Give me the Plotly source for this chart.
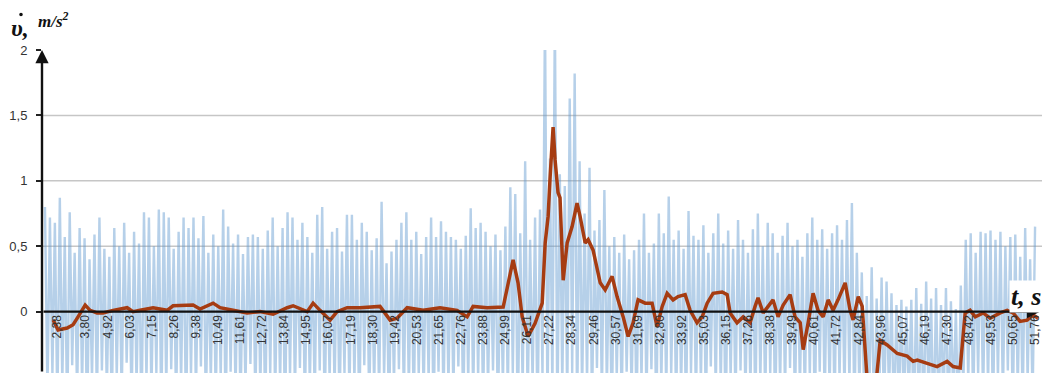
import numpy as np
import plotly.graph_objects as go

# ---- raw acceleration record (alternating crest / trough samples) ----
t_start = 1.75
t_step = 0.125

crest_vals = [
    0.80, 0.72, 0.68, 0.87, 0.57, 0.76, 0.45, 0.64, 0.56, 0.40,
    0.59, 0.72, 0.48, 0.42, 0.64, 0.50, 0.68, 0.45, 0.61, 0.52,
    0.76, 0.72, 0.50, 0.78, 0.76, 0.72, 0.48, 0.61, 0.72, 0.64,
    0.72, 0.56, 0.73, 0.45, 0.59, 0.50, 0.78, 0.65, 0.52, 0.59,
    0.44, 0.57, 0.59, 0.57, 0.48, 0.62, 0.72, 0.50, 0.64, 0.76,
    0.72, 0.55, 0.68, 0.57, 0.45, 0.74, 0.80, 0.48, 0.61, 0.64,
    0.46, 0.74, 0.74, 0.55, 0.68, 0.61, 0.47, 0.56, 0.84, 0.37,
    0.46, 0.55, 0.68, 0.76, 0.55, 0.61, 0.44, 0.57, 0.72, 0.57,
    0.69, 0.61, 0.57, 0.55, 0.48, 0.58, 0.79, 0.64, 0.68, 0.61,
    0.50, 0.59, 0.47, 0.65, 0.95, 0.90, 0.60, 1.15, 0.55, 0.72,
    0.78, 2.30, 1.17, 2.30, 1.05, 0.96, 1.63, 1.82, 1.15, 0.75,
    1.10, 0.62, 0.70, 0.93, 0.50, 0.57, 0.45, 0.59, 0.40, 0.47,
    0.55, 0.75, 0.45, 0.52, 0.75, 0.60, 0.88, 0.55, 0.62, 0.48,
    0.77, 0.58, 0.55, 0.66, 0.45, 0.60, 0.75, 0.52, 0.62, 0.48,
    0.70, 0.55, 0.45, 0.63, 0.75, 0.50, 0.68, 0.60, 0.45, 0.58,
    0.68, 0.50, 0.55, 0.42, 0.60, 0.72, 0.55, 0.63, 0.48, 0.60,
    0.66, 0.55, 0.70, 0.83, 0.45, 0.30, 0.12, 0.34, 0.10, 0.26,
    0.23, 0.14, 0.05, 0.09, 0.04, 0.09, 0.18, 0.06, 0.23, 0.10,
    0.18, 0.05, 0.18, 0.08, 0.02, 0.20, 0.55, 0.60, 0.45, 0.61,
    0.60, 0.62, 0.55, 0.61, 0.50, 0.57, 0.59, 0.42, 0.64, 0.40,
    0.65,
]

trough_vals = [
    -0.62, -0.48, -0.75, -0.55, -0.83, -0.41, -0.66, -0.58, -0.90, -0.52,
    -0.70, -0.45, -0.61, -0.78, -0.50, -0.67, -0.39, -0.72, -0.57, -0.85,
    -0.53, -0.64, -0.47, -0.80, -0.60, -0.44, -0.73, -0.56, -0.88, -0.49,
    -0.65, -0.42, -0.77, -0.54, -0.69, -0.51, -0.86, -0.46, -0.63, -0.74,
    -0.58, -0.40, -0.71, -0.60, -0.82, -0.48, -0.67, -0.55, -0.92, -0.50,
    -0.64, -0.43, -0.76, -0.57, -0.69, -0.45, -0.81, -0.52, -0.62, -0.79,
    -0.47, -0.68, -0.55, -0.87, -0.41, -0.73, -0.59, -0.66, -0.50, -0.84,
    -0.56, -0.44, -0.70, -0.61, -0.78, -0.49, -0.65, -0.53, -0.89, -0.46,
    -0.72, -0.58, -0.63, -0.42, -0.80, -0.54, -0.68, -0.51, -0.75, -0.60,
    -0.45, -0.83, -0.57, -0.66, -0.48, -0.91, -0.60, -0.72, -0.55, -0.85,
    -0.50, -0.78, -0.62, -0.88, -0.58, -0.70, -0.47, -0.81, -0.64, -0.55,
    -0.76, -0.43, -0.67, -0.59, -0.84, -0.50, -0.71, -0.46, -0.62, -0.79,
    -0.53, -0.68, -0.44, -0.86, -0.57, -0.64, -0.49, -0.74, -0.60, -0.82,
    -0.47, -0.69, -0.55, -0.77, -0.42, -0.63, -0.58, -0.90, -0.51, -0.72,
    -0.45, -0.66, -0.60, -0.81, -0.54, -0.70, -0.48, -0.85, -0.56, -0.63,
    -0.43, -0.75, -0.59, -0.68, -0.50, -0.88, -0.46, -0.71, -0.62, -0.79,
    -0.52, -0.65, -0.57, -0.83, -0.60, -0.74, -0.66, -0.92, -0.70, -0.81,
    -0.64, -0.87, -0.72, -0.78, -0.68, -0.90, -0.75, -0.84, -0.71, -0.95,
    -0.80, -0.73, -0.86, -0.69, -0.91, -0.62, -0.55, -0.77, -0.48, -0.70,
    -0.58, -0.83, -0.51, -0.66, -0.45, -0.79, -0.60, -0.72, -0.53, -0.68,
]

# ---- smoothed acceleration ----
smooth_t = [
    2.16, 2.41, 2.87, 3.17, 3.42, 3.78, 4.03, 4.38, 4.68, 5.19,
    5.90, 6.20, 6.55, 7.21, 7.92, 8.22, 9.23, 9.58, 10.24, 10.59,
    11.25, 11.96, 12.61, 13.27, 13.98, 14.28, 14.99, 15.29, 15.64, 16.15,
    16.50, 17.01, 17.66, 18.67, 19.18, 19.53, 20.04, 20.85, 21.70, 22.56,
    23.07, 23.37, 24.08, 24.89, 25.39, 25.64, 25.85, 26.15, 26.50, 26.86,
    27.01, 27.16, 27.26, 27.41, 27.51, 27.66, 27.76, 27.92, 28.12, 28.37,
    28.62, 28.77, 29.03, 29.18, 29.43, 29.79, 30.04, 30.39, 30.64, 30.95,
    31.20, 31.45, 31.70, 32.06, 32.41, 32.66, 32.92, 33.17, 33.47, 33.72,
    34.08, 34.33, 34.68, 34.94, 35.19, 35.49, 35.95, 36.20, 36.35, 36.70,
    37.01, 37.36, 37.61, 37.76, 38.02, 38.27, 38.52, 38.77, 39.03, 39.38,
    39.63, 39.89, 40.04, 40.29, 40.54, 40.79, 41.05, 41.30, 41.55, 41.80,
    42.16, 42.41, 42.56, 42.82, 43.02, 43.27, 43.68, 43.93, 44.28, 44.79,
    45.29, 45.59, 45.80, 46.30, 46.80, 47.31, 47.61, 47.97, 48.22, 48.47,
    48.73, 49.13, 49.48, 49.99, 50.34, 50.64, 50.99, 51.35, 51.65, 51.90,
]
smooth_v = [
    -0.063, -0.14, -0.125, -0.10, -0.04, 0.05, 0.01, -0.01, -0.01, 0.01,
    0.03, 0.0, 0.01, 0.03, 0.01, 0.045, 0.05, 0.02, 0.065, 0.03,
    0.01, -0.01, 0.0, -0.02, 0.03, 0.045, 0.0, 0.065, 0.01, -0.065,
    0.0, 0.03, 0.03, 0.04, -0.065, -0.05, 0.03, 0.01, 0.03, 0.01,
    -0.04, 0.04, 0.03, 0.035, 0.395, 0.22, -0.04, -0.19, -0.09, 0.065,
    0.525, 0.73, 1.03, 1.41, 1.16, 0.91, 0.87, 0.24, 0.525, 0.65,
    0.83, 0.73, 0.525, 0.55, 0.47, 0.22, 0.166, 0.27, 0.115, -0.04,
    -0.19, -0.085, 0.09, 0.065, 0.065, -0.115, 0.04, 0.14, 0.09, 0.115,
    0.13, 0.01, -0.085, -0.04, 0.065, 0.14, 0.15, 0.13, -0.01, -0.085,
    -0.04, -0.085, 0.04, 0.105, -0.01, 0.04, 0.09, -0.04, 0.05, 0.13,
    -0.04, -0.085, -0.29, -0.085, 0.14, 0.01, -0.04, 0.09, 0.01, 0.09,
    0.22, 0.01, -0.063, 0.115, 0.04, -0.52, -0.60, -0.22, -0.255, -0.32,
    -0.34, -0.38, -0.37, -0.395, -0.42, -0.38, -0.42, -0.43, -0.01, 0.01,
    -0.04, -0.01, -0.05, -0.01, 0.01, -0.01, -0.075, -0.065, -0.025, -0.05,
]

tick_times = [
    2.38, 3.80, 4.92, 6.03, 7.15, 8.26, 9.38, 10.49, 11.61, 12.72,
    13.84, 14.95, 16.07, 17.19, 18.30, 19.42, 20.53, 21.65, 22.76, 23.88,
    24.99, 26.11, 27.22, 28.34, 29.46, 30.57, 31.69, 32.80, 33.92, 35.03,
    36.15, 37.26, 38.38, 39.49, 40.61, 41.72, 42.84, 43.96, 45.07, 46.19,
    47.30, 48.42, 49.53, 50.65, 51.76,
]
y_ticks = [0, 0.5, 1, 1.5, 2]
grid_levels = [0.5, 1, 1.5]

x_range = [1.6, 52.1]
y_range = [-0.469, 2.0]

# interleave crests and troughs on a uniform sampling grid
raw_v = []
for i, c in enumerate(crest_vals):
    raw_v.append(c)
    if i < len(trough_vals):
        raw_v.append(trough_vals[i])
raw_t = t_start + t_step * np.arange(len(raw_v))

fig = go.Figure()

fig.add_trace(go.Scatter(
    x=raw_t, y=raw_v, mode="lines",
    line=dict(color="rgba(96,152,208,0.46)", width=2.4),
    hoverinfo="skip", showlegend=False,
))
fig.add_trace(go.Scatter(
    x=smooth_t, y=smooth_v, mode="lines",
    line=dict(color="#a63c12", width=3.5),
    hoverinfo="skip", showlegend=False,
))

for g in grid_levels:
    fig.add_shape(type="line", xref="x", yref="y",
                  x0=x_range[0], x1=x_range[1], y0=g, y1=g,
                  line=dict(color="#c6c6c6", width=1.5), layer="below")

axis_font = dict(family="Liberation Sans, Arial, sans-serif", size=12, color="#333333")

fig.update_layout(
    width=1048, height=373,
    margin=dict(l=42, r=6, t=50, b=0),
    paper_bgcolor="white", plot_bgcolor="white",
    separators=", ",
    showlegend=False,
    xaxis=dict(
        range=x_range, showgrid=False, zeroline=False, showline=False,
        tickvals=tick_times, tickformat=".2f", tickangle=-90,
        ticks="", tickfont=axis_font,
        anchor="free", position=(0 - y_range[0]) / (y_range[1] - y_range[0]),
        automargin=False,
    ),
    yaxis=dict(
        range=y_range, showgrid=False, zeroline=False, showline=False,
        tickvals=y_ticks, ticks="outside", ticklen=5, tickwidth=1.5,
        tickcolor="#222", ticklabelstandoff=6,
        tickfont=dict(family="Liberation Sans, Arial, sans-serif", size=13, color="#333333"),
        automargin=False,
    ),
)

# axis lines with arrow heads
fig.add_annotation(x=52.0, y=0, ax=x_range[0], ay=0, xref="x", yref="y",
                   axref="x", ayref="y", text="", showarrow=True,
                   arrowhead=2, arrowsize=1.1, arrowwidth=2.4, arrowcolor="#111")
fig.add_annotation(x=x_range[0], y=y_range[1], ax=x_range[0], ay=y_range[0],
                   xref="x", yref="y", axref="x", ayref="y", text="",
                   showarrow=True, arrowhead=2, arrowsize=1.1, arrowwidth=2.4,
                   arrowcolor="#111")

# axis captions
serif = "Liberation Serif, Times New Roman, serif"
fig.add_annotation(xref="paper", yref="paper", x=-0.033, y=1.068,
                   xanchor="left", yanchor="middle", showarrow=False,
                   text="<b><i>\u03c5,</i></b>",
                   font=dict(family=serif, size=24, color="#111"))
# derivative dot over the upsilon
fig.add_shape(type="circle", xref="paper", yref="paper",
              x0=-0.0228, x1=-0.0192, y0=1.1045, y1=1.1155,
              fillcolor="#111", line=dict(width=0))
fig.add_annotation(xref="paper", yref="paper", x=-0.006, y=1.092,
                   xanchor="left", yanchor="middle", showarrow=False,
                   text="<b><i>m/s<sup>2</sup></i></b>",
                   font=dict(family=serif, size=17, color="#111"))
fig.add_annotation(xref="paper", yref="paper", x=0.984, y=0.236,
                   xanchor="center", yanchor="middle", showarrow=False,
                   text="<b><i>t, s</i></b>", bgcolor="white", borderpad=1,
                   font=dict(family=serif, size=26, color="#111"))

fig.write_html("out.html")
